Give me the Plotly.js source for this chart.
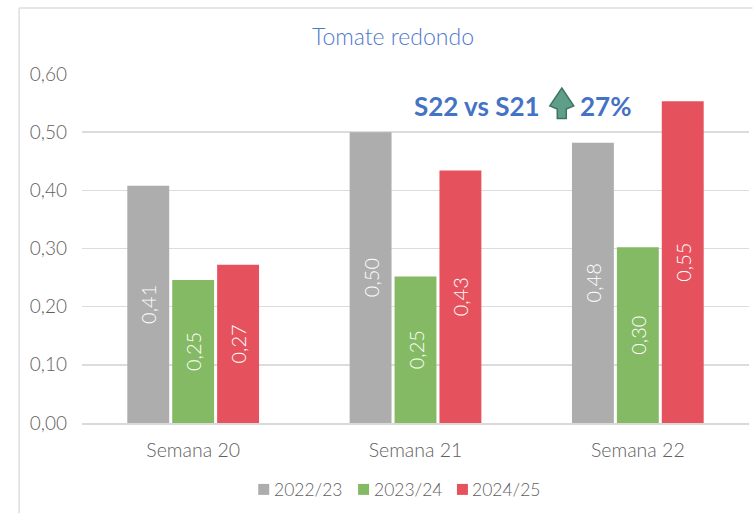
<!DOCTYPE html>
<html><head><meta charset="utf-8">
<script src="https://cdn.plot.ly/plotly-3.0.1.min.js"></script>
<style>html,body{margin:0;padding:0;background:#fff;overflow:hidden}#c{width:753px;height:514px}</style>
</head><body><div id="c"></div>
<script>
const categories=['Semana 20','Semana 21','Semana 22'];
const seriesNames=['2022/23','2023/24','2024/25'];
const values2223=[0.408,0.50,0.482];
const values2324=[0.246,0.252,0.302];
const values2425=[0.272,0.434,0.553];
const seriesColors=['#ADADAD','#84BA63','#E5525E'];
const yTicks=[0,0.1,0.2,0.3,0.4,0.5,0.6];
const yTickLabels=['0,00','0,10','0,20','0,30','0,40','0,50','0,60'];
const font='Lato, "Open Sans", sans-serif';
const W=753,H=514,L=81.5,R=3.5,T=74,B=90.5;
const plotW=W-L-R,plotH=H-T-B;
const fx=x=>(x-L)/plotW, fy=y=>1-(y-T)/plotH;
const arrow=[[562,88],[574,106],[566.5,109],[566.5,118.5],[557.5,118.5],[557.5,109],[550,106]];
const legendX=[258,358,457];
const traces=[values2223,values2324,values2425].map((v,i)=>({
  type:'bar',name:seriesNames[i],x:categories,y:v,
  marker:{color:seriesColors[i]},
  texttemplate:'%{y:.2f}',textposition:'inside',insidetextanchor:'middle',textangle:-90,
  insidetextfont:{family:font,size:20,color:'#fff',weight:300},cliponaxis:false,hoverinfo:'skip'
}));
const lineStyle={color:'#DEDEDE',width:1.5};
const layout={
  width:W,height:H,margin:{l:L,r:R,t:T,b:B},
  paper_bgcolor:'#fff',plot_bgcolor:'#fff',separators:',.',
  barmode:'group',bargap:0.394,bargroupgap:0.067,
  font:{family:font,color:'#6f6f6f'},
  xaxis:{type:'category',showgrid:false,showline:true,linecolor:'#D9D9D9',linewidth:2,ticks:'',
    ticklabelstandoff:9,tickfont:{size:19.5,color:'#5f5f5f',family:font,weight:300},automargin:false},
  yaxis:{range:[0,0.6],tickvals:yTicks,ticktext:yTickLabels,showline:false,zeroline:false,
    showgrid:true,gridcolor:'#DCDCDC',gridwidth:1.5,ticks:'',ticklen:0,ticklabelstandoff:14,
    tickfont:{size:19,color:'#5f5f5f',family:font,weight:300},automargin:false},
  showlegend:false,
  title:{text:'Tomate redondo',font:{size:23,color:'#4F78CC',family:font,weight:300},
    x:393/W,xanchor:'center',xref:'container',y:1-37/H,yanchor:'middle',yref:'container'},
  shapes:[
    {type:'line',xref:'paper',yref:'paper',x0:fx(18.5),x1:fx(18.5),y0:fy(8),y1:fy(514),line:lineStyle},
    {type:'line',xref:'paper',yref:'paper',x0:fx(18.5),x1:fx(753),y0:fy(8),y1:fy(8),line:lineStyle},
    {type:'path',xref:'paper',yref:'paper',path:'M'+arrow.map(p=>fx(p[0])+' '+fy(p[1])).join(' L')+' Z',fillcolor:'#5F9E88',line:{color:'#3E7561',width:1.5}},
    ...legendX.map((x,i)=>({type:'rect',xref:'paper',yref:'paper',x0:fx(x),x1:fx(x+11),y0:fy(484.5),y1:fy(495.5),fillcolor:seriesColors[i],line:{width:0}}))
  ],
  annotations:[
    {xref:'paper',yref:'paper',x:fx(477.5),y:fy(106),text:'<b>S22 vs S21</b>',showarrow:false,xanchor:'center',yanchor:'middle',font:{size:26,color:'#4472C4',family:font}},
    {xref:'paper',yref:'paper',x:fx(606),y:fy(106),text:'<b>27%</b>',showarrow:false,xanchor:'center',yanchor:'middle',font:{size:26,color:'#4472C4',family:font}},
    ...legendX.map((x,i)=>({xref:'paper',yref:'paper',x:fx(x+13.5),y:fy(490),text:seriesNames[i],showarrow:false,xanchor:'left',yanchor:'middle',font:{size:17.5,color:'#5f5f5f',family:font,weight:300}}))
  ]
};
Plotly.newPlot('c',traces,layout,{displayModeBar:false,staticPlot:true});
</script></body></html>
